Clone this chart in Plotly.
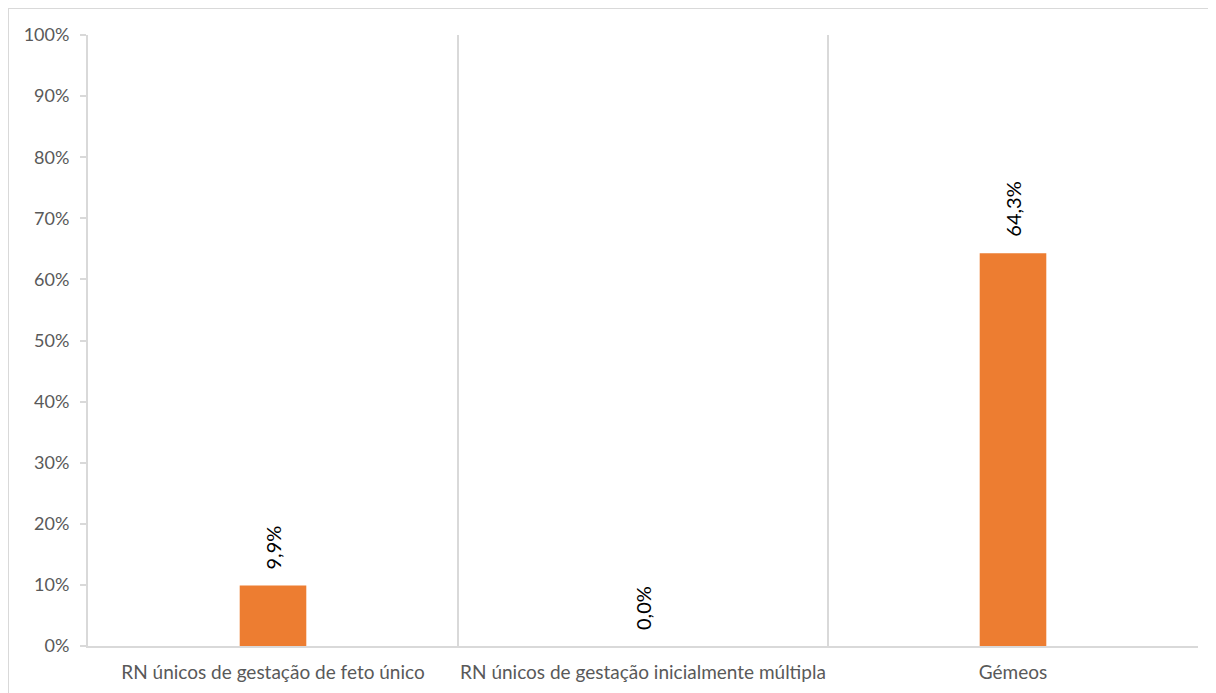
import plotly.graph_objects as go

categories = ["RN únicos de gestação de feto único",
              "RN únicos de gestação inicialmente múltipla",
              "Gémeos"]
values = [0.099, 0.0, 0.643]
labels = ["9,9%", "0,0%", "64,3%"]
ytick_vals = [i / 10 for i in range(11)]

W, H = 1208, 685
ml, mr, mt, mb = 80, 18, 27, 47
pw, ph = W - ml - mr, H - mt - mb

xpos = list(range(len(categories)))
bounds = [i + 0.5 for i in xpos]

fig = go.Figure()
fig.add_trace(go.Bar(
    x=xpos, y=values, width=0.18,
    marker=dict(color="#ED7D31", line=dict(width=0)),
    hoverinfo="skip", showlegend=False,
))
fig.add_trace(go.Scatter(x=[bounds[0]], y=[0], xaxis="x2", mode="markers",
                         marker=dict(opacity=0), showlegend=False, hoverinfo="skip"))

for xv, yv, t in zip(xpos, values, labels):
    fig.add_annotation(x=xv, y=yv, text=t, showarrow=False, textangle=-90,
                       xanchor="center", yanchor="bottom", yshift=14,
                       font=dict(family="Lato, sans-serif", size=20, color="#000000"))

fig.update_layout(
    width=W, height=H,
    margin=dict(l=ml, r=mr, t=mt, b=mb),
    paper_bgcolor="white", plot_bgcolor="white",
    font=dict(family="Lato, sans-serif", size=18, color="#595959"),
    xaxis=dict(range=[-0.5, 2.5], tickvals=xpos, ticktext=categories,
               showgrid=False, zeroline=False, showline=True,
               linecolor="#d9d9d9", linewidth=2, ticks="",
               ticklabelstandoff=8, automargin=False,
               tickfont=dict(size=19, color="#595959")),
    xaxis2=dict(range=[-0.5, 2.5], overlaying="x", tickvals=bounds,
                showgrid=True, gridcolor="#d9d9d9", gridwidth=2,
                showticklabels=False, zeroline=False, showline=False, ticks=""),
    yaxis=dict(range=[0, 1], tickvals=ytick_vals, tickformat=".0%",
               showgrid=False, zeroline=False, showline=True,
               linecolor="#d9d9d9", linewidth=2, ticks="outside",
               ticklen=6, tickcolor="#d9d9d9", tickwidth=2,
               ticklabelstandoff=7, automargin=False,
               tickfont=dict(size=18, color="#595959")),
)

fig.add_shape(type="rect", xref="paper", yref="paper",
              x0=-ml / pw, x1=1 + (mr + 20) / pw,
              y0=-(mb + 20) / ph, y1=1 + mt / ph,
              line=dict(color="#d9d9d9", width=2), layer="below")

fig.write_html("out.html")
